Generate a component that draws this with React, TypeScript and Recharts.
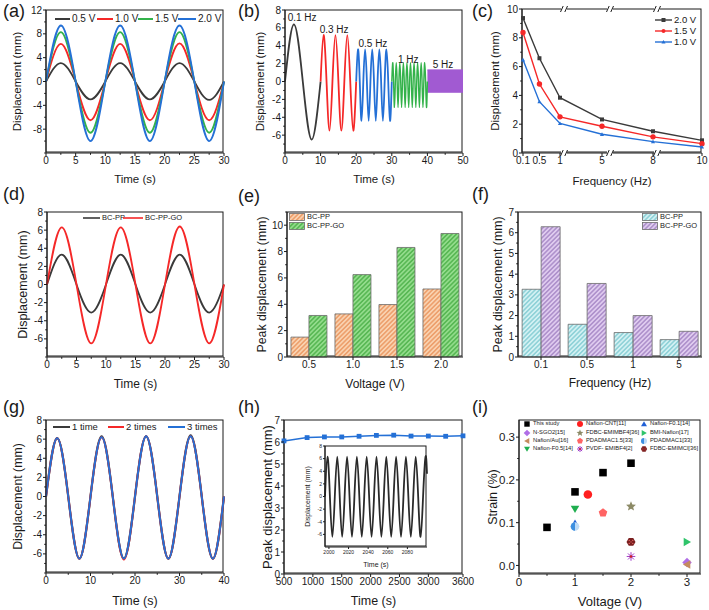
import React from 'react';
import {
  LineChart, Line, XAxis, YAxis, BarChart, Bar, ScatterChart, Scatter,
  ComposedChart, Area, ReferenceArea, ReferenceDot,
} from 'recharts';

const FONT = '"Liberation Sans", Arial, Helvetica, sans-serif';
const INK = '#1a1a1a';

// (a) displacement at 0.1 Hz for four voltages
const aTime = [0, 2.5, 5, 7.5, 10, 12.5, 15, 17.5, 20, 22.5, 25, 27.5, 30];
const a05 = [0, 3.1, 0, -3.0, 0, 3.1, 0, -3.0, 0, 3.1, 0, -3.1, 0];
const a10 = [0, 6.3, 0, -6.5, 0, 6.3, 0, -6.5, 0, 6.4, 0, -6.5, 0];
const a15 = [0, 8.3, 0, -8.6, 0, 8.3, 0, -8.6, 0, 8.3, 0, -8.6, 0];
const a20 = [0, 9.4, 0, -10, 0, 9.4, 0, -10, 0, 9.4, 0, -10, 0];

// (b) displacement at increasing frequencies
const bBlackT = [0, 2.5, 5, 7.5, 10];
const bBlackV = [0, 6.4, 0, -6.5, 0];
const bRedT = [10, 10.83, 11.67, 12.5, 13.33, 14.17, 15, 15.83, 16.67, 17.5, 18.33, 19.17, 20];
const bRedV = [0, 5.2, 0, -5.5, 0, 5.2, 0, -5.5, 0, 5.2, 0, -5.5, 0];
const bBlueT = [20, 20.5, 21, 21.5, 22, 22.5, 23, 23.5, 24, 24.5, 25, 25.5, 26, 26.5, 27, 27.5, 28, 28.5, 29, 29.5, 30];
const bBlueV = [0, 3.6, 0, -4.4, 0, 3.6, 0, -4.4, 0, 3.6, 0, -4.4, 0, 3.6, 0, -4.4, 0, 3.6, 0, -4.4, 0];
const bGreenT = [
  30, 30.25, 30.5, 30.75, 31, 31.25, 31.5, 31.75, 32, 32.25, 32.5, 32.75, 33, 33.25,
  33.5, 33.75, 34, 34.25, 34.5, 34.75, 35, 35.25, 35.5, 35.75, 36, 36.25, 36.5, 36.75,
  37, 37.25, 37.5, 37.75, 38, 38.25, 38.5, 38.75, 39, 39.25, 39.5, 39.75, 40,
];
const bGreenV = [
  0, 2.1, 0, -2.9, 0, 2.1, 0, -2.9, 0, 2.1, 0, -2.9, 0, 2.1, 0, -2.9, 0, 2.1, 0, -2.9,
  0, 2.1, 0, -2.9, 0, 2.1, 0, -2.9, 0, 2.1, 0, -2.9, 0, 2.1, 0, -2.9, 0, 2.1, 0, -2.9, 0,
];
// 5 Hz trace is too dense to resolve: drawn as its envelope
const bPurpleT = [40, 50];
const bPurpleLo = [-1.2, -1.2];
const bPurpleHi = [1.3, 1.3];

// (c) displacement vs frequency
const cFreq = [0.1, 0.5, 1, 5, 8, 10];
const c20 = [9.37, 6.58, 3.84, 2.33, 1.51, 0.88];
const c15 = [8.37, 4.79, 2.51, 1.86, 1.12, 0.65];
const c10 = [6.47, 3.56, 2.05, 1.3, 0.79, 0.42];

// (d) BC-PP vs BC-PP-GO
const dPP = [0, 3.3, 0, -3.1, 0, 3.3, 0, -3.1, 0, 3.3, 0, -3.1, 0];
const dGO = [0, 6.3, 0, -6.5, 0, 6.3, 0, -6.5, 0, 6.4, 0, -6.5, 0];

// (e) peak displacement vs voltage
const eVolt = ['0.5', '1.0', '1.5', '2.0'];
const ePP = [1.51, 3.27, 3.98, 5.16];
const eGO = [3.15, 6.25, 8.31, 9.37];

// (f) peak displacement vs frequency
const fFreq = ['0.1', '0.5', '1', '5'];
const fPP = [3.27, 1.58, 1.18, 0.84];
const fGO = [6.29, 3.55, 2.0, 1.24];

// (g) repeated runs
const gTime = [0, 2.5, 5, 7.5, 10, 12.5, 15, 17.5, 20, 22.5, 25, 27.5, 30, 32.5, 35, 37.5, 40];
const g1 = [0, 6.1, 0, -6.5, 0, 6.3, 0, -6.5, 0, 6.3, 0, -6.5, 0, 6.4, 0, -6.5, 0];
const g2 = [0, 6.1, 0, -6.5, 0, 6.2, 0, -6.6, 0, 6.3, 0, -6.5, 0, 6.3, 0, -6.5, 0];
const g3 = [0, 6.1, 0, -6.5, 0, 6.2, 0, -6.5, 0, 6.3, 0, -6.5, 0, 6.3, 0, -6.5, 0];

// (h) long-run stability + inset
const hTime = [500, 900, 1200, 1500, 1800, 2100, 2400, 2700, 3000, 3300, 3600];
const hPeak = [6.05, 6.2, 6.23, 6.23, 6.26, 6.3, 6.31, 6.27, 6.27, 6.26, 6.28];
const insetT = [
  1996, 1998.5, 2001, 2003.5, 2006, 2008.5, 2011, 2013.5, 2016, 2018.5, 2021, 2023.5,
  2026, 2028.5, 2031, 2033.5, 2036, 2038.5, 2041, 2043.5, 2046, 2048.5, 2051, 2053.5,
  2056, 2058.5, 2061, 2063.5, 2066, 2068.5, 2071, 2073.5, 2076, 2078.5, 2081, 2083.5,
  2086, 2088.5, 2091, 2093.5, 2096, 2098.5, 2100,
];
const insetV = [
  0, 6.3, 0, -6.4, 0, 6.3, 0, -6.4, 0, 6.3, 0, -6.4, 0, 6.3, 0, -6.4, 0, 6.3, 0, -6.4,
  0, 6.3, 0, -6.4, 0, 6.3, 0, -6.4, 0, 6.3, 0, -6.4, 0, 6.3, 0, -6.4, 0, 6.3, 0, -6.4,
  0, 6.3, 3.6,
];

// (i) strain comparison
const iNames = [
  'This study', 'Nafion-CNT[11]', 'Nafion-F0.1[14]',
  'N-SGO2[15]', 'FDBC-EMIMBF4[36]', 'BMI-Nafion[17]',
  'Nafion/Au[16]', 'PDADMAC1.5[33]', 'PDADMAC1[33]',
  'Nafion-F0.5[14]', 'PVDF- EMIBF4[2]', 'FDBC-EMIMCl[36]',
];
const iVolt = [[0.5, 1, 1.5, 2], [1.23], [1], [3], [2], [3], [3], [1.5], [1], [1], [2], [2]];
const iStrain = [[0.089, 0.172, 0.217, 0.239], [0.166], [0.098], [0.007], [0.138], [0.055], [0.002], [0.123], [0.091], [0.132], [0.021], [0.055]];

type Kind = 'square' | 'circle' | 'triUp' | 'triDown' | 'triLeft' | 'triRight' | 'diamond' | 'star' | 'pentagon' | 'halfCircle' | 'asterisk' | 'hexDots';
const iKinds: Kind[] = ['square', 'circle', 'triUp', 'diamond', 'star', 'triRight', 'triLeft', 'pentagon', 'halfCircle', 'triDown', 'asterisk', 'hexDots'];
const iColors = ['#000000', '#ff1f1f', '#1f5fd6', '#b06ee6', '#8c8a66', '#2fc46a', '#c48b5e', '#ff6464', '#3d8fe0', '#1fae4f', '#a03cc8', '#7a1f1f'];

// ---------- layout ----------
type Cell = { x: number; y: number; w: number; h: number };
type PlotBox = { l: number; t: number; r: number; b: number };

const COLS = [{ x: 0, w: 236 }, { x: 236, w: 234 }, { x: 470, w: 239 }];
const ROWS = [{ y: 0, h: 200 }, { y: 200, h: 205 }, { y: 405, h: 205 }];
const cell = (c: number, r: number, extraW = 0): Cell => ({ x: COLS[c].x, w: COLS[c].w + extraW, y: ROWS[r].y, h: ROWS[r].h });

const PLOT: Record<string, PlotBox> = {
  a: { l: 46, t: 10, r: 224, b: 153 },
  b: { l: 285, t: 10, r: 463, b: 153 },
  c: { l: 522, t: 9, r: 702, b: 153 },
  d: { l: 47, t: 212, r: 224, b: 357 },
  e: { l: 287, t: 212, r: 463, b: 357 },
  f: { l: 518, t: 212, r: 702, b: 357 },
  g: { l: 46, t: 420, r: 224, b: 573 },
  h: { l: 284, t: 420, r: 463, b: 574 },
  i: { l: 519, t: 420, r: 701, b: 574 },
  inset: { l: 325, t: 446, r: 427, b: 547 },
};

function geom(c: Cell, p: PlotBox) {
  return {
    width: c.w,
    height: c.h,
    margin: { top: p.t - c.y, right: c.x + c.w - p.r, bottom: 0, left: 0 },
    yw: p.l - c.x,
    xh: c.y + c.h - p.b,
  };
}

const TICK_LEN = 3;
const TICK_GAP = 1;
const tickFont = (fs = 10) => ({ fontSize: fs, fill: INK, fontFamily: FONT });
const axisBase = (fs = 10) => ({
  tick: tickFont(fs),
  tickLine: { stroke: INK },
  axisLine: { stroke: INK },
  tickSize: TICK_LEN,
  tickMargin: TICK_GAP,
  interval: 0 as const,
});

const near = (list: number[], v: number) => list.some((m) => Math.abs(m - v) < 1e-9);

// tick positions: majors plus minor steps between lo and hi
function withMinor(majors: number[], lo: number, hi: number, step: number) {
  const out = [...majors];
  const n = Math.round((hi - lo) / step);
  for (let k = 0; k <= n; k++) {
    const v = +(lo + k * step).toFixed(6);
    if (!near(out, v)) out.push(v);
  }
  return out.sort((p, q) => p - q);
}

// axis with long labelled majors and short unlabelled minors
function xMinorAxis(majors: number[], lo: number, hi: number, step: number, fs = 10, fmt?: (v: number) => string) {
  return {
    ticks: withMinor(majors, lo, hi, step),
    tickLine: false,
    axisLine: { stroke: INK },
    tickSize: TICK_LEN,
    tickMargin: TICK_GAP,
    interval: 0 as const,
    tick: (p: any) => {
      const v = p.payload.value;
      const major = near(majors, v);
      const ay = p.y - TICK_LEN - TICK_GAP;
      return (
        <g>
          <line x1={p.x} x2={p.x} y1={ay} y2={ay + (major ? TICK_LEN : 1.8)} stroke={INK} />
          {major && (
            <text x={p.x} y={p.y} dy="0.71em" textAnchor="middle" fontSize={fs} fill={INK} fontFamily={FONT}>{fmt ? fmt(v) : v}</text>
          )}
        </g>
      );
    },
  };
}

function yMinorAxis(majors: number[], lo: number, hi: number, step: number, fs = 10, fmt?: (v: number) => string) {
  return {
    ticks: withMinor(majors, lo, hi, step),
    tickLine: false,
    axisLine: { stroke: INK },
    tickSize: TICK_LEN,
    tickMargin: TICK_GAP,
    interval: 0 as const,
    tick: (p: any) => {
      const v = p.payload.value;
      const major = near(majors, v);
      const ax = p.x + TICK_LEN + TICK_GAP;
      return (
        <g>
          <line x1={ax} x2={ax - (major ? TICK_LEN : 1.8)} y1={p.y} y2={p.y} stroke={INK} />
          {major && (
            <text x={p.x} y={p.y} dy="0.355em" textAnchor="end" fontSize={fs} fill={INK} fontFamily={FONT}>{fmt ? fmt(v) : v}</text>
          )}
        </g>
      );
    },
  };
}

const xTitle = (value: string, offset: number, fs = 12) => ({
  value, position: 'insideBottom' as const, offset,
  style: { fontSize: fs, fill: INK, fontFamily: FONT },
});
const yTitle = (value: string, offset: number, fs = 12) => ({
  value, angle: -90, position: 'insideLeft' as const, offset,
  style: { textAnchor: 'middle', fontSize: fs, fill: INK, fontFamily: FONT },
});

const zip = (ts: number[], vs: number[]) => ts.map((t, i) => ({ t, y: vs[i] }));

function Abs({ c, children }: { c: Cell; children: React.ReactNode }) {
  return <div style={{ position: 'absolute', left: c.x, top: c.y, width: c.w, height: c.h }}>{children}</div>;
}

// closed box round each plot area (drawn behind the charts)
function Frames() {
  return (
    <>
      {Object.keys(PLOT).map((k) => {
        const p = PLOT[k];
        return (
          <div key={k} style={{ position: 'absolute', left: p.l, top: p.t, width: p.r - p.l, height: p.b - p.t, border: `1px solid ${INK}`, boxSizing: 'border-box', transform: 'translate(-0.5px,-0.5px)' }} />
        );
      })}
    </>
  );
}

function LineKey({ x, y, w, color, label, fs, marker, sw = 2 }: {
  x: number; y: number; w: number; color: string; label: string; fs: number; marker?: React.ReactNode; sw?: number;
}) {
  return (
    <div style={{ position: 'absolute', left: x, top: y - 6, height: 12, display: 'flex', alignItems: 'center', whiteSpace: 'nowrap', fontSize: fs, color: INK, lineHeight: 1 }}>
      <svg width={w} height={8} style={{ marginRight: 2, overflow: 'visible' }}>
        <line x1={0} x2={w} y1={4} y2={4} stroke={color} strokeWidth={sw} />
        {marker}
      </svg>
      <span>{label}</span>
    </div>
  );
}

function SwatchKey({ x, y, fill, label }: { x: number; y: number; fill: string; label: string }) {
  return (
    <div style={{ position: 'absolute', left: x, top: y - 5, height: 10, display: 'flex', alignItems: 'center', whiteSpace: 'nowrap', fontSize: 7.5, color: INK, lineHeight: 1 }}>
      <svg width={16} height={8} style={{ marginRight: 2 }}>
        <rect x={0.5} y={0.5} width={15} height={7} fill={fill} stroke="#6b6b6b" strokeWidth={0.8} />
      </svg>
      <span>{label}</span>
    </div>
  );
}

function poly(cx: number, cy: number, r: number, n: number, rot: number) {
  const pts: string[] = [];
  for (let k = 0; k < n; k++) {
    const a = ((rot + (360 / n) * k) * Math.PI) / 180;
    pts.push(`${cx + r * Math.cos(a)},${cy + r * Math.sin(a)}`);
  }
  return pts.join(' ');
}

function starPts(cx: number, cy: number, r: number) {
  const pts: string[] = [];
  for (let k = 0; k < 10; k++) {
    const rr = k % 2 === 0 ? r : r * 0.45;
    const a = ((-90 + 36 * k) * Math.PI) / 180;
    pts.push(`${cx + rr * Math.cos(a)},${cy + rr * Math.sin(a)}`);
  }
  return pts.join(' ');
}

function Marker({ kind, color, cx, cy, r }: { kind: Kind; color: string; cx: number; cy: number; r: number }) {
  switch (kind) {
    case 'square':
      return <rect x={cx - r * 0.9} y={cy - r * 0.9} width={r * 1.8} height={r * 1.8} fill={color} />;
    case 'circle':
      return <circle cx={cx} cy={cy} r={r} fill={color} />;
    case 'triUp':
      return <polygon points={poly(cx, cy + r * 0.2, r * 1.15, 3, -90)} fill={color} />;
    case 'triDown':
      return <polygon points={poly(cx, cy - r * 0.2, r * 1.15, 3, 90)} fill={color} />;
    case 'triLeft':
      return <polygon points={poly(cx + r * 0.2, cy, r * 1.15, 3, 180)} fill={color} />;
    case 'triRight':
      return <polygon points={poly(cx - r * 0.2, cy, r * 1.15, 3, 0)} fill={color} />;
    case 'diamond':
      return <polygon points={poly(cx, cy, r * 1.1, 4, -90)} fill={color} />;
    case 'pentagon':
      return <polygon points={poly(cx, cy, r * 1.05, 5, -90)} fill={color} />;
    case 'star':
      return <polygon points={starPts(cx, cy, r * 1.2)} fill={color} />;
    case 'halfCircle':
      return (
        <g>
          <circle cx={cx} cy={cy} r={r} fill="#bcdaf7" />
          <path d={`M${cx},${cy - r} A${r},${r} 0 0 0 ${cx},${cy + r} Z`} fill={color} />
        </g>
      );
    case 'asterisk':
      return (
        <g stroke={color} strokeWidth={1}>
          <line x1={cx - r} y1={cy} x2={cx + r} y2={cy} />
          <line x1={cx} y1={cy - r} x2={cx} y2={cy + r} />
          <line x1={cx - r * 0.7} y1={cy - r * 0.7} x2={cx + r * 0.7} y2={cy + r * 0.7} />
          <line x1={cx - r * 0.7} y1={cy + r * 0.7} x2={cx + r * 0.7} y2={cy - r * 0.7} />
          <circle cx={cx} cy={cy} r={r * 0.3} fill="#d02020" stroke="none" />
        </g>
      );
    case 'hexDots':
      return (
        <g>
          <polygon points={poly(cx, cy, r * 1.05, 6, 0)} fill={color} />
          <circle cx={cx - r * 0.4} cy={cy - r * 0.35} r={r * 0.16} fill="#e06060" />
          <circle cx={cx + r * 0.4} cy={cy - r * 0.35} r={r * 0.16} fill="#e06060" />
          <circle cx={cx} cy={cy} r={r * 0.16} fill="#e06060" />
          <circle cx={cx - r * 0.4} cy={cy + r * 0.35} r={r * 0.16} fill="#e06060" />
          <circle cx={cx + r * 0.4} cy={cy + r * 0.35} r={r * 0.16} fill="#e06060" />
        </g>
      );
  }
  return null;
}

function Hatch({ id, base, line }: { id: string; base: string; line: string }) {
  return (
    <pattern id={id} width={3.2} height={3.2} patternUnits="userSpaceOnUse" patternTransform="rotate(45)">
      <rect width={3.2} height={3.2} fill={base} />
      <line x1={0.8} y1={0} x2={0.8} y2={3.2} stroke={line} strokeWidth={1.1} />
    </pattern>
  );
}

// ---------- panels ----------
const C_BLACK = '#3a3a3a';
const C_RED = '#f52828';
const C_GREEN = '#33b24a';
const C_BLUE = '#2470d6';
const C_PURPLE = '#a15ad2';

function PanelA() {
  const c = cell(0, 0);
  const g = geom(c, PLOT.a);
  const rows = aTime.map((t, i) => ({ t, v05: a05[i], v10: a10[i], v15: a15[i], v20: a20[i] }));
  return (
    <Abs c={c}>
      <LineChart width={g.width} height={g.height} margin={g.margin} data={rows}>
        <XAxis type="number" dataKey="t" domain={[0, 30]} height={g.xh} {...xMinorAxis([0, 5, 10, 15, 20, 25, 30], 0, 30, 2.5)} label={xTitle('Time (s)', 17, 11.5)} />
        <YAxis type="number" domain={[-12, 12]} width={g.yw} {...yMinorAxis([-8, -4, 0, 4, 8, 12], -12, 12, 2)} label={yTitle('Displacement (mm)', 17, 11.5)} />
        <Line type="natural" dataKey="v05" stroke={C_BLACK} strokeWidth={1.8} dot={false} isAnimationActive={false} />
        <Line type="natural" dataKey="v10" stroke={C_RED} strokeWidth={1.8} dot={false} isAnimationActive={false} />
        <Line type="natural" dataKey="v15" stroke={C_GREEN} strokeWidth={1.8} dot={false} isAnimationActive={false} />
        <Line type="natural" dataKey="v20" stroke={C_BLUE} strokeWidth={1.8} dot={false} isAnimationActive={false} />
      </LineChart>
    </Abs>
  );
}

function HzNote({ x, y, text }: { x: number; y: number; text: string }) {
  return (
    <ReferenceDot
      key={text}
      x={x} y={y} r={0} ifOverflow="visible"
      shape={(p: any) => (
        <text x={p.cx} y={p.cy} textAnchor="middle" dominantBaseline="central" fontSize={10} fill={INK} fontFamily={FONT}>{text}</text>
      )}
    />
  );
}

function PanelB() {
  const c = cell(1, 0);
  const g = geom(c, PLOT.b);
  const purple = bPurpleT.map((t, i) => ({ t, band: [bPurpleLo[i], bPurpleHi[i]] }));
  return (
    <Abs c={c}>
      <ComposedChart width={g.width} height={g.height} margin={g.margin}>
        <XAxis type="number" dataKey="t" domain={[0, 50]} height={g.xh} {...xMinorAxis([0, 10, 20, 30, 40, 50], 0, 50, 5)} label={xTitle('Time (s)', 17, 11.5)} />
        <YAxis type="number" domain={[-8, 8]} width={g.yw} {...yMinorAxis([-6, -4, -2, 0, 2, 4, 6, 8], -8, 8, 1)} label={yTitle('Displacement (mm)', 24, 11.5)} />
        <Line data={zip(bBlackT, bBlackV)} type="natural" dataKey="y" stroke={C_BLACK} strokeWidth={1.8} dot={false} isAnimationActive={false} />
        <Line data={zip(bRedT, bRedV)} type="natural" dataKey="y" stroke={C_RED} strokeWidth={1.8} dot={false} isAnimationActive={false} />
        <Line data={zip(bBlueT, bBlueV)} type="natural" dataKey="y" stroke={C_BLUE} strokeWidth={1.8} dot={false} isAnimationActive={false} />
        <Line data={zip(bGreenT, bGreenV)} type="natural" dataKey="y" stroke={C_GREEN} strokeWidth={1.4} dot={false} isAnimationActive={false} />
        <Area data={purple} type="linear" dataKey="band" stroke={C_PURPLE} fill={C_PURPLE} fillOpacity={1} strokeWidth={1} isAnimationActive={false} />
        {HzNote({ x: 4.8, y: 7.2, text: '0.1 Hz' })}
        {HzNote({ x: 13.8, y: 5.8, text: '0.3 Hz' })}
        {HzNote({ x: 24.7, y: 4.2, text: '0.5 Hz' })}
        {HzNote({ x: 34.6, y: 2.5, text: '1 Hz' })}
        {HzNote({ x: 44.4, y: 1.85, text: '5 Hz' })}
      </ComposedChart>
    </Abs>
  );
}

// broken frequency axis of (c): Hz -> axis units, piecewise linear between labelled ticks
const cKnots: [number, number][] = [[0.1, 1], [1, 38], [5, 80], [8, 131], [10, 180]];
function freqPos(f: number) {
  for (let k = 1; k < cKnots.length; k++) {
    const [f0, p0] = cKnots[k - 1];
    const [f1, p1] = cKnots[k];
    if (f <= f1) return p0 + ((f - f0) / (f1 - f0)) * (p1 - p0);
  }
  return cKnots[cKnots.length - 1][1];
}
const cBreaks = [42, 88, 135];

function BreakMark(p: any) {
  const { cx, cy } = p;
  return (
    <g>
      <rect x={cx - 3} y={cy - 2} width={6} height={4} fill="#fff" />
      <line x1={cx - 3.5} y1={cy + 3} x2={cx - 0.8} y2={cy - 3} stroke={INK} strokeWidth={1} />
      <line x1={cx + 0.8} y1={cy + 3} x2={cx + 3.5} y2={cy - 3} stroke={INK} strokeWidth={1} />
    </g>
  );
}

const sqDot = (color: string, s = 2) => (p: any) => <rect key={p.index} x={p.cx - s} y={p.cy - s} width={2 * s} height={2 * s} fill={color} />;
const triDot = (color: string, s = 2.4) => (p: any) => <polygon key={p.index} points={poly(p.cx, p.cy + 0.4, s, 3, -90)} fill={color} />;

function PanelC() {
  const c = cell(2, 0);
  const g = geom(c, PLOT.c);
  const rows = cFreq.map((f, i) => ({ pos: freqPos(f), v20: c20[i], v15: c15[i], v10: c10[i] }));
  const ticks = cFreq.map(freqPos);
  return (
    <Abs c={c}>
      <LineChart width={g.width} height={g.height} margin={g.margin} data={rows}>
        <XAxis type="number" dataKey="pos" domain={[0, 180]} ticks={ticks} tickFormatter={(v: number) => String(cFreq[ticks.indexOf(v)] ?? '')} height={g.xh} {...axisBase()} label={xTitle('Frequency (Hz)', 15, 11.5)} />
        <YAxis type="number" domain={[0, 10]} width={g.yw} {...yMinorAxis([0, 2, 4, 6, 8, 10], 0, 10, 1)} label={yTitle('Displacement (mm)', 25, 11.5)} />
        <Line type="linear" dataKey="v20" stroke={C_BLACK} strokeWidth={1.4} dot={sqDot(C_BLACK)} isAnimationActive={false} />
        <Line type="linear" dataKey="v15" stroke={C_RED} strokeWidth={1.4} dot={{ r: 2, fill: C_RED, stroke: C_RED }} isAnimationActive={false} />
        <Line type="linear" dataKey="v10" stroke={C_BLUE} strokeWidth={1.4} dot={triDot(C_BLUE)} isAnimationActive={false} />
        {cBreaks.map((b) => (
          <ReferenceArea key={`rb${b}`} x1={b - 1.2} x2={b + 1.2} y1={0.15} y2={9.85} fill="#fff" fillOpacity={1} stroke="none" ifOverflow="visible" />
        ))}
        {cBreaks.map((b) => <ReferenceDot key={`db${b}`} x={b} y={0} ifOverflow="visible" shape={BreakMark} />)}
        {cBreaks.map((b) => <ReferenceDot key={`dt${b}`} x={b} y={10} ifOverflow="visible" shape={BreakMark} />)}
      </LineChart>
    </Abs>
  );
}

function PanelD() {
  const c = cell(0, 1);
  const g = geom(c, PLOT.d);
  const rows = aTime.map((t, i) => ({ t, pp: dPP[i], go: dGO[i] }));
  return (
    <Abs c={c}>
      <LineChart width={g.width} height={g.height} margin={g.margin} data={rows}>
        <XAxis type="number" dataKey="t" domain={[0, 30]} height={g.xh} {...xMinorAxis([0, 5, 10, 15, 20, 25, 30], 0, 30, 2.5)} label={xTitle('Time (s)', 17, 12)} />
        <YAxis type="number" domain={[-8, 8]} width={g.yw} {...yMinorAxis([-6, -4, -2, 0, 2, 4, 6, 8], -8, 8, 1)} label={yTitle('Displacement (mm)', 23, 12.5)} />
        <Line type="natural" dataKey="pp" stroke={C_BLACK} strokeWidth={1.8} dot={false} isAnimationActive={false} />
        <Line type="natural" dataKey="go" stroke={C_RED} strokeWidth={1.8} dot={false} isAnimationActive={false} />
      </LineChart>
    </Abs>
  );
}

function PanelE() {
  const c = cell(1, 1);
  const g = geom(c, PLOT.e);
  const rows = eVolt.map((k, i) => ({ k, pp: ePP[i], go: eGO[i] }));
  return (
    <Abs c={c}>
      <BarChart width={g.width} height={g.height} margin={g.margin} data={rows} barCategoryGap="9%" barGap={0}>
        <defs>
          <Hatch id="hatchOrange" base="#f9d2b0" line="#e8894e" />
          <Hatch id="hatchGreen" base="#93dc8c" line="#3ea83c" />
        </defs>
        <XAxis dataKey="k" height={g.xh} {...axisBase()} label={xTitle('Voltage (V)', 17, 12)} />
        <YAxis type="number" domain={[0, 11]} width={g.yw} {...yMinorAxis([0, 2, 4, 6, 8, 10], 0, 11, 1)} label={yTitle('Peak displacement (mm)', 26, 12.3)} />
        <Bar dataKey="pp" fill="url(#hatchOrange)" stroke="#6b6b6b" strokeWidth={0.8} isAnimationActive={false} />
        <Bar dataKey="go" fill="url(#hatchGreen)" stroke="#6b6b6b" strokeWidth={0.8} isAnimationActive={false} />
      </BarChart>
    </Abs>
  );
}

function PanelF() {
  const c = cell(2, 1);
  const g = geom(c, PLOT.f);
  const rows = fFreq.map((k, i) => ({ k, pp: fPP[i], go: fGO[i] }));
  return (
    <Abs c={c}>
      <BarChart width={g.width} height={g.height} margin={g.margin} data={rows} barCategoryGap="9%" barGap={0}>
        <defs>
          <Hatch id="hatchCyan" base="#d3f1f3" line="#72c4cc" />
          <Hatch id="hatchPurple" base="#dfcbef" line="#9a78bd" />
        </defs>
        <XAxis dataKey="k" height={g.xh} {...axisBase()} label={xTitle('Frequency (Hz)', 18, 12)} />
        <YAxis type="number" domain={[0, 7]} width={g.yw} {...yMinorAxis([0, 1, 2, 3, 4, 5, 6, 7], 0, 7, 0.5)} label={yTitle('Peak displacement (mm)', 28, 12.3)} />
        <Bar dataKey="pp" fill="url(#hatchCyan)" stroke="#6b6b6b" strokeWidth={0.8} isAnimationActive={false} />
        <Bar dataKey="go" fill="url(#hatchPurple)" stroke="#6b6b6b" strokeWidth={0.8} isAnimationActive={false} />
      </BarChart>
    </Abs>
  );
}

function PanelG() {
  const c = cell(0, 2);
  const g = geom(c, PLOT.g);
  const rows = gTime.map((t, i) => ({ t, r1: g1[i], r2: g2[i], r3: g3[i] }));
  return (
    <Abs c={c}>
      <LineChart width={g.width} height={g.height} margin={g.margin} data={rows}>
        <XAxis type="number" dataKey="t" domain={[0, 40]} height={g.xh} {...xMinorAxis([0, 10, 20, 30, 40], 0, 40, 5)} label={xTitle('Time (s)', 5, 12.5)} />
        <YAxis type="number" domain={[-8, 8]} width={g.yw} {...yMinorAxis([-6, -4, -2, 0, 2, 4, 6, 8], -8, 8, 1)} label={yTitle('Displacement (mm)', 18, 12.3)} />
        <Line type="natural" dataKey="r1" stroke={C_BLACK} strokeWidth={2.2} dot={false} isAnimationActive={false} />
        <Line type="natural" dataKey="r2" stroke={C_RED} strokeWidth={2} dot={false} isAnimationActive={false} />
        <Line type="natural" dataKey="r3" stroke={C_BLUE} strokeWidth={1.8} dot={false} isAnimationActive={false} />
      </LineChart>
    </Abs>
  );
}

function PanelH() {
  const c = cell(1, 2, 12);
  const g = geom(c, PLOT.h);
  const rows = hTime.map((t, i) => ({ t, y: hPeak[i] }));
  const ic: Cell = { x: 290, y: 440, w: 145, h: 130 };
  const ig = geom(ic, PLOT.inset);
  return (
    <>
      <Abs c={c}>
        <LineChart width={g.width} height={g.height} margin={g.margin} data={rows}>
          <XAxis type="number" dataKey="t" domain={[500, 3600]} ticks={[500, 1000, 1500, 2000, 2500, 3000, 3600]} height={g.xh} {...axisBase(10)} label={xTitle('Time (s)', 5, 12.5)} />
          <YAxis type="number" domain={[0, 7]} width={g.yw} {...yMinorAxis([0, 1, 2, 3, 4, 5, 6, 7], 0, 7, 0.5)} label={yTitle('Peak displacement (mm)', 31, 13)} />
          <Line type="linear" dataKey="y" stroke={C_BLUE} strokeWidth={1.5} dot={sqDot(C_BLUE, 2.4)} isAnimationActive={false} />
        </LineChart>
      </Abs>
      <Abs c={ic}>
        <LineChart width={ig.width} height={ig.height} margin={ig.margin} data={zip(insetT, insetV)}>
          <XAxis type="number" dataKey="t" domain={[1996, 2100]} ticks={[2000, 2020, 2040, 2060, 2080]} height={ig.xh} {...axisBase(5)} tickSize={2} label={xTitle('Time (s)', 3, 7)} />
          <YAxis type="number" domain={[-8, 8]} ticks={[-6, -4, -2, 0, 2, 4, 6, 8]} width={ig.yw} {...axisBase(5)} tickSize={2} label={yTitle('Displacement (mm)', 18, 7)} />
          <Line type="natural" dataKey="y" stroke="#2a2a2a" strokeWidth={1.8} dot={false} isAnimationActive={false} />
        </LineChart>
      </Abs>
    </>
  );
}

function PanelI() {
  const c = cell(2, 2);
  const g = geom(c, PLOT.i);
  return (
    <Abs c={c}>
      <ScatterChart width={g.width} height={g.height} margin={g.margin}>
        <XAxis type="number" dataKey="x" domain={[0, 3.25]} height={g.xh} {...xMinorAxis([0, 1, 2, 3], 0, 3, 0.5, 11.5)} label={xTitle('Voltage (V)', 4, 13)} />
        <YAxis type="number" dataKey="y" domain={[-0.02, 0.34]} width={g.yw} {...yMinorAxis([0, 0.1, 0.2, 0.3], 0, 0.3, 0.05, 11.5, (v) => v.toFixed(1))} label={yTitle('Strain (%)', 23, 12.5)} />
        {iNames.map((name, s) => (
          <Scatter
            key={name}
            name={name}
            data={iVolt[s].map((x, k) => ({ x, y: iStrain[s][k] }))}
            isAnimationActive={false}
            shape={(p: any) => <Marker kind={iKinds[s]} color={iColors[s]} cx={p.cx} cy={p.cy} r={s === 0 ? 4.2 : 4.3} />}
          />
        ))}
      </ScatterChart>
    </Abs>
  );
}

function Legends() {
  const iCols = [527, 580, 644];
  const iRows = [424, 433, 441, 449];
  return (
    <>
      {/* (a) */}
      <LineKey x={55} y={19} w={15} color={C_BLACK} label="0.5 V" fs={10} />
      <LineKey x={97} y={19} w={16} color={C_RED} label="1.0 V" fs={10} />
      <LineKey x={138} y={19} w={15} color={C_GREEN} label="1.5 V" fs={10} />
      <LineKey x={178} y={19} w={18} color={C_BLUE} label="2.0 V" fs={10} />
      {/* (c) */}
      <LineKey x={655} y={20} w={17} color={C_BLACK} label="2.0 V" fs={9.5} sw={1.4} marker={<rect x={6.5} y={2} width={4} height={4} fill={C_BLACK} />} />
      <LineKey x={655} y={31} w={17} color={C_RED} label="1.5 V" fs={9.5} sw={1.4} marker={<circle cx={8.5} cy={4} r={2} fill={C_RED} />} />
      <LineKey x={655} y={42} w={17} color={C_BLUE} label="1.0 V" fs={9.5} sw={1.4} marker={<polygon points={poly(8.5, 4.4, 2.4, 3, -90)} fill={C_BLUE} />} />
      {/* (d) */}
      <LineKey x={83} y={218} w={17} color={C_BLACK} label="BC-PP" fs={7.5} sw={1.6} />
      <LineKey x={123} y={218} w={20} color={C_RED} label="BC-PP-GO" fs={7.5} sw={1.6} />
      {/* (e) */}
      <SwatchKey x={289} y={216.5} fill="url(#hatchOrange)" label="BC-PP" />
      <SwatchKey x={289} y={225.5} fill="url(#hatchGreen)" label="BC-PP-GO" />
      {/* (f) */}
      <SwatchKey x={642} y={216.5} fill="url(#hatchCyan)" label="BC-PP" />
      <SwatchKey x={642} y={225.5} fill="url(#hatchPurple)" label="BC-PP-GO" />
      {/* (g) */}
      <LineKey x={53} y={427} w={17} color={C_BLACK} label="1 time" fs={9.5} />
      <LineKey x={108} y={427} w={16} color={C_RED} label="2 times" fs={9.5} />
      <LineKey x={168} y={427} w={17} color={C_BLUE} label="3 times" fs={9.5} />
      {/* (i) */}
      {iNames.map((name, s) => (
        <div key={name} style={{ position: 'absolute', left: iCols[s % 3] - 4, top: iRows[Math.floor(s / 3)] - 4, height: 8, display: 'flex', alignItems: 'center', whiteSpace: 'nowrap', fontSize: 5.8, color: INK, lineHeight: 1 }}>
          <svg width={8} height={8} style={{ marginRight: 2, overflow: 'visible' }}>
            <Marker kind={iKinds[s]} color={iColors[s]} cx={4} cy={4} r={3} />
          </svg>
          <span>{name}</span>
        </div>
      ))}
    </>
  );
}

const PANEL_TAGS: [string, number, number][] = [
  ['(a)', 3, 1], ['(b)', 238, 1], ['(c)', 472, 1],
  ['(d)', 3, 184], ['(e)', 238, 186], ['(f)', 472, 184],
  ['(g)', 3, 397], ['(h)', 238, 397], ['(i)', 472, 397],
];

export default function App() {
  return (
    <div style={{ position: 'absolute', left: 0, top: 0, width: 709, height: 610, background: '#fff', fontFamily: FONT, overflow: 'hidden' }}>
      <Frames />
      <PanelA />
      <PanelB />
      <PanelC />
      <PanelD />
      <PanelE />
      <PanelF />
      <PanelG />
      <PanelH />
      <PanelI />
      <Legends />
      {PANEL_TAGS.map(([t, x, y]) => (
        <div key={t} style={{ position: 'absolute', left: x, top: y, fontSize: 18, lineHeight: '20px', color: INK }}>{t}</div>
      ))}
    </div>
  );
}
